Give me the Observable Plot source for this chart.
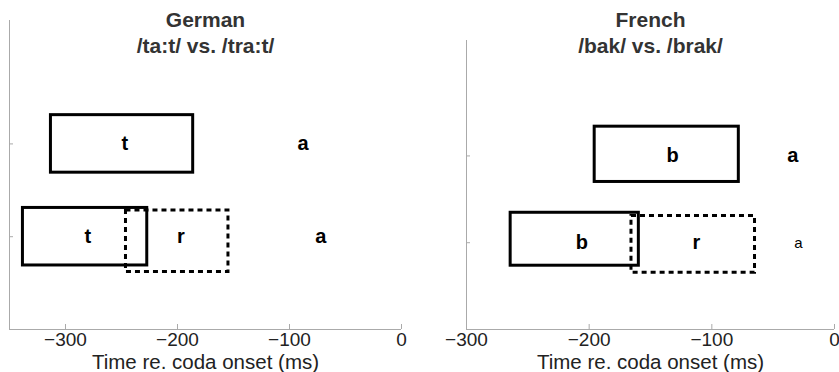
<!DOCTYPE html>
<html><head><meta charset="utf-8">
<script src="https://cdn.jsdelivr.net/npm/d3@7"></script>
<script src="https://cdn.jsdelivr.net/npm/@observablehq/plot@0.6"></script>
<style>
body{margin:0;background:#fff;}
#wrap{display:flex;width:839px;height:372px;overflow:hidden;}
svg{display:block}
</style></head><body><div id="wrap"></div>
<script>
const panels = ["German", "French"];
const subtitles = ["/ta:t/ vs. /tra:t/", "/bak/ vs. /brak/"];
const xDomains = [[-350, 0], [-300, 0]];
const xTicks = [-300, -200, -100, 0];
const yTicks = [1, 2];
const yDomain = [0, 3.33];
const axisLabel = "Time re. coda onset (ms)";

// boxes (segment durations)
const boxPanel = ["German", "German", "German", "French", "French", "French"];
const boxX1 = [-313, -338, -246, -195.5, -264, -165.5];
const boxX2 = [-186, -227, -154.5, -78, -159.5, -64.8];
const boxY1 = [1.69, 0.69, 0.62, 1.70, 0.735, 0.655];
const boxY2 = [2.31, 1.31, 1.283, 2.337, 1.345, 1.307];
const boxStyle = ["solid", "solid", "dashed", "solid", "solid", "dashed"];

// segment labels
const labelPanel = ["German", "German", "German", "German", "German", "French", "French", "French", "French", "French"];
const labelText = ["t", "a", "t", "r", "a", "b", "a", "b", "r", "a"];
const labelX = [-247, -88, -280, -197, -72, -132, -34, -206, -112.5, -29.5];
const labelY = [2, 2, 1, 1, 1, 2, 2, 1, 1, 1];
const labelSize = [20, 20, 20, 20, 20, 20, 20, 20, 20, 15];
const labelWeight = ["bold", "bold", "bold", "bold", "bold", "bold", "bold", "bold", "bold", "normal"];

const boxes = boxPanel.map((p, i) => ({panel: p, x1: boxX1[i], x2: boxX2[i], y1: boxY1[i], y2: boxY2[i], style: boxStyle[i]}));
const labels = labelPanel.map((p, i) => ({panel: p, text: labelText[i], x: labelX[i], y: labelY[i], size: labelSize[i], weight: labelWeight[i]}));

const layout = [
  {width: 420, marginLeft: 9, marginRight: 19, marginTop: 20, marginBottom: 43, t1: 0, t2: 26},
  {width: 419, marginLeft: 46, marginRight: 5, marginTop: 40, marginBottom: 43, t1: -20, t2: 6}
];
const font = "Liberation Sans, Arial, Helvetica, sans-serif";

panels.forEach((panel, k) => {
  const L = layout[k];
  const b = boxes.filter(d => d.panel === panel);
  const l = labels.filter(d => d.panel === panel);
  const marks = [
    Plot.ruleX([xDomains[k][0]], {stroke: "#aaa", strokeWidth: 1}),
    Plot.ruleY([yDomain[0]], {stroke: "#aaa", strokeWidth: 1}),
    Plot.axisX(xTicks, {anchor: "bottom", tickSize: -5, tickFormat: () => "", stroke: "#aaa", label: null}),
    Plot.axisX(xTicks, {anchor: "bottom", tickSize: 0, tickPadding: 3, fontSize: 19, fill: "#222", label: null}),
    Plot.axisY(yTicks, {anchor: "left", tickSize: -4, tickFormat: () => "", stroke: "#aaa", label: null}),
    Plot.rect(b.filter(d => d.style === "solid"), {x1: "x1", x2: "x2", y1: "y1", y2: "y2", fill: "none", stroke: "black", strokeWidth: 3}),
    Plot.rect(b.filter(d => d.style === "dashed"), {x1: "x1", x2: "x2", y1: "y1", y2: "y2", fill: "none", stroke: "black", strokeWidth: 3, strokeDasharray: "5,4"}),
    ...[...new Set(l.map(d => d.size + d.weight))].map(key => {
      const sub = l.filter(d => d.size + d.weight === key);
      return Plot.text(sub, {x: "x", y: "y", text: "text", fontSize: sub[0].size, fontWeight: sub[0].weight, fill: "black"});
    }),
    Plot.text([panel], {frameAnchor: "top", lineAnchor: "middle", dy: L.t1, text: d => d, fontSize: 21, fontWeight: "bold", fill: "#333"}),
    Plot.text([subtitles[k]], {frameAnchor: "top", lineAnchor: "middle", dy: L.t2, text: d => d, fontSize: 21, fontWeight: "bold", fill: "#333"}),
    Plot.text([axisLabel], {frameAnchor: "bottom", lineAnchor: "middle", dy: 33, text: d => d, fontSize: 20.5, fill: "#222"})
  ];
  const chart = Plot.plot({
    width: L.width,
    height: 372,
    marginLeft: L.marginLeft,
    marginRight: L.marginRight,
    marginTop: L.marginTop,
    marginBottom: L.marginBottom,
    x: {domain: xDomains[k], axis: null},
    y: {domain: yDomain, axis: null},
    style: {fontFamily: font, background: "white", overflow: "visible"},
    marks
  });
  document.getElementById("wrap").appendChild(chart);
});
</script></body></html>
